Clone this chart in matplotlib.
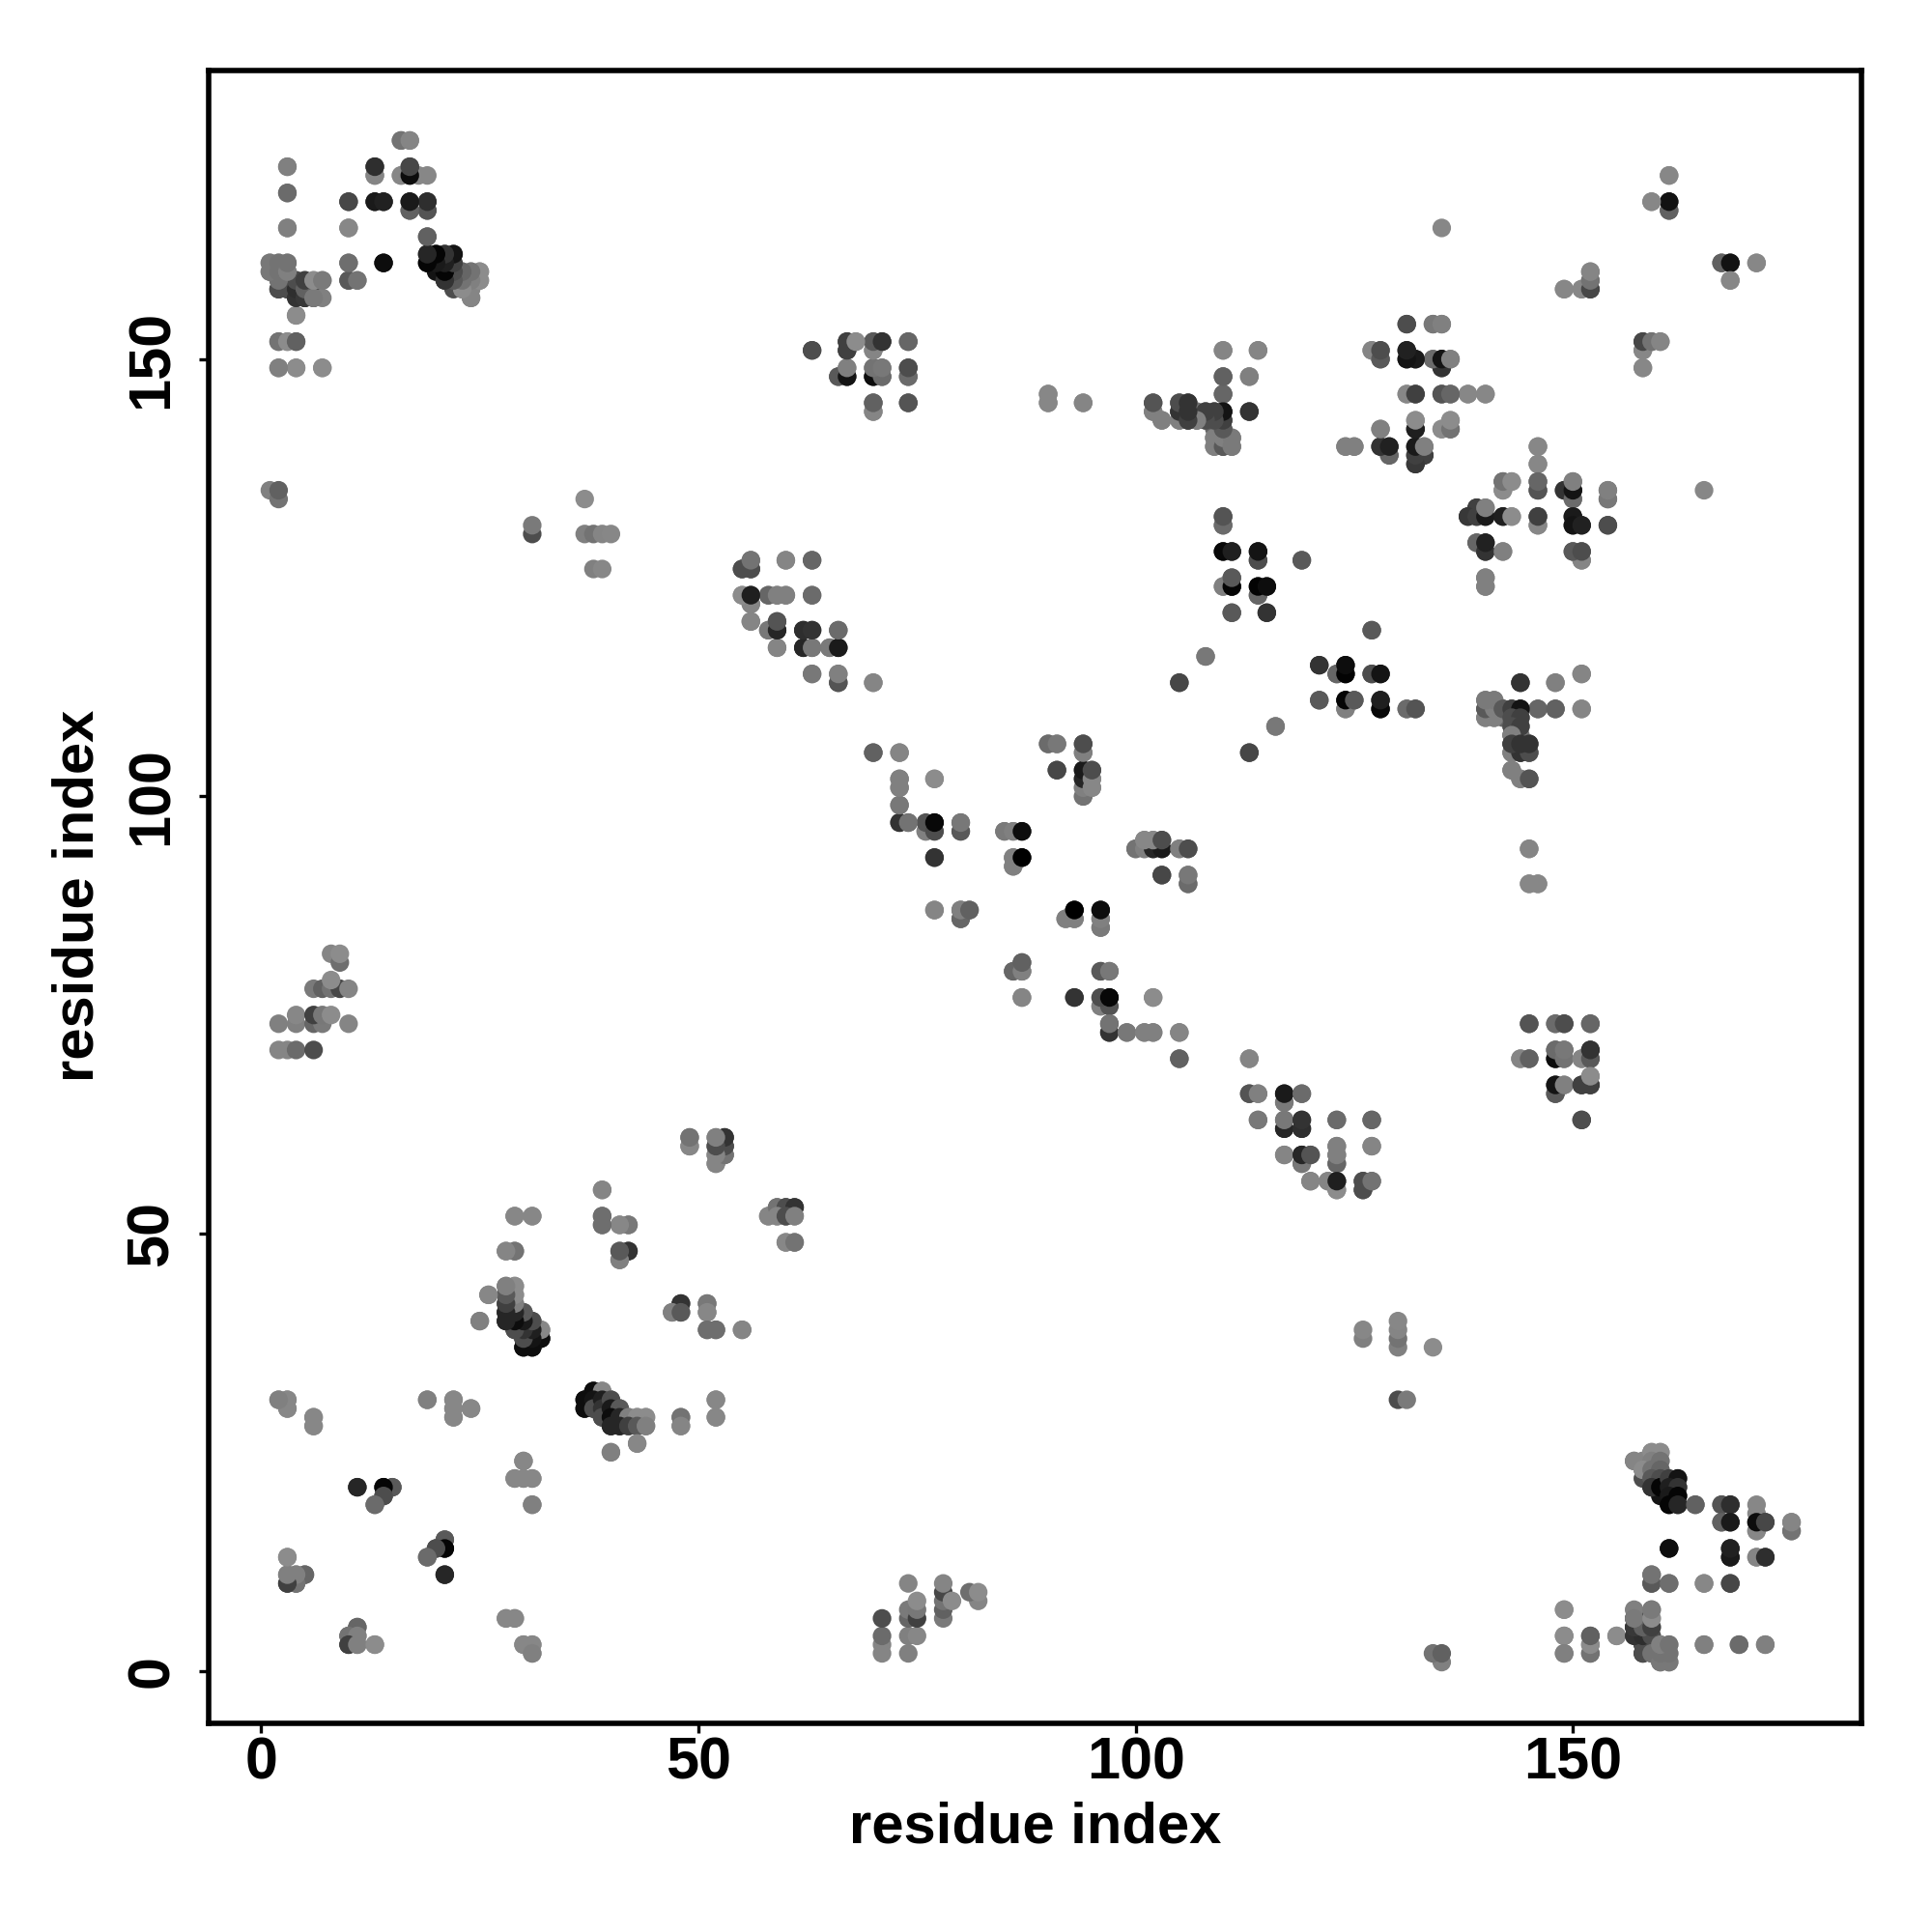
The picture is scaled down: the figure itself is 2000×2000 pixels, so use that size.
import matplotlib
matplotlib.use('Agg')
from matplotlib import pyplot as plt

# contacts as (residue, residue, grey level); the map is symmetric so each
# pair is listed once and mirrored when drawn
cluster_n_term = [
    (16, 175, .45), (17, 175, .55), (3, 172, .53), (13, 171, .5), (13, 172, .2), (16, 171, .52),
    (17, 171, .08), (18, 171, .53), (17, 172, .3), (3, 169, .45), (17, 167, .35), (19, 167, .35),
    (10, 168, .25), (13, 168, .08), (14, 168, .12), (17, 168, .1), (19, 168, .2), (3, 165, .5),
    (10, 165, .53), (19, 164, .38), (1, 161, .5), (2, 161, .5), (3, 161, .5), (10, 161, .45),
    (14, 161, .05), (1, 160, .5), (2, 160, .5), (3, 160, .45), (2, 159, .42), (3, 159, .4),
    (4, 159, .3), (5, 159, .25), (2, 158, .2), (3, 158, .2), (4, 158, .2), (5, 158, .08),
    (6, 158, .3), (6, 159, .5), (7, 159, .42), (10, 159, .42), (11, 159, .5), (5, 157, .15),
    (6, 157, .2), (7, 157, .5), (4, 155, .55), (2, 152, .48), (3, 152, .52), (4, 152, .38),
    (2, 149, .48), (4, 149, .5), (7, 149, .55),
]
cluster_19_25 = [
    (19, 162, .15), (20, 162, .05), (21, 162, .12), (22, 162, .2), (19, 161, .05),
    (20, 161, .1), (21, 161, .1), (20, 160, .08), (21, 160, .05), (22, 160, .15),
    (21, 159, .15), (22, 159, .2), (23, 160, .4), (24, 160, .45), (25, 160, .5), (23, 159, .4),
    (24, 159, .42), (25, 159, .52), (22, 158, .3), (23, 158, .45), (24, 158, .45), (24, 157, .48),
]
cluster_low = [
    (49, 61, .45), (49, 60, .53), (52, 61, .5), (53, 61, .2), (52, 60, .3), (53, 60, .2),
    (53, 59, .42), (52, 59, .5), (52, 58, .5), (39, 55, .52), (29, 52, .53), (31, 52, .53),
    (39, 52, .42), (39, 51, .42), (41, 51, .52), (42, 51, .45), (41, 48, .42), (42, 48, .2),
    (41, 47, .5), (28, 48, .53), (29, 48, .47), (48, 42, .2), (47, 41, .5), (48, 41, .35),
    (51, 42, .47), (51, 41, .53), (51, 39, .43), (52, 39, .43), (55, 39, .52), (58, 52, .52),
    (59, 53, .45), (60, 53, .3), (61, 53, .2), (59, 52, .52), (60, 52, .3), (61, 52, .5),
    (60, 49, .53), (61, 49, .45),
]
cluster_28_44 = [
    (28, 44, .47), (29, 44, .55), (26, 43, .52), (28, 43, .42), (29, 43, .55), (25, 40, .53),
    (28, 42, .4), (28, 41, .2), (28, 40, .15), (29, 42, .5), (29, 41, .2), (29, 40, .15),
    (30, 41, .35), (30, 40, .12), (31, 40, .3), (29, 39, .3), (30, 39, .05), (31, 39, .1),
    (32, 39, .55), (30, 38, .1), (31, 38, .03), (32, 38, .05), (30, 37, .03), (31, 37, .03),
    (37, 31, .05), (38, 32, .05), (39, 32, .53), (37, 30, .05), (38, 31, .08), (38, 30, .3),
    (39, 31, .12), (39, 30, .2), (39, 29, .3), (40, 31, .3), (40, 30, .1), (41, 30, .35),
    (40, 29, .05), (41, 29, .15), (42, 29, .5), (43, 29, .55), (44, 29, .55), (40, 28, .15),
    (41, 28, .15), (42, 28, .25), (43, 28, .35), (44, 28, .5), (43, 26, .53), (40, 25, .5),
    (48, 29, .45), (48, 28, .52), (52, 31, .53), (52, 29, .53), (2, 31, .55), (3, 31, .55),
    (3, 30, .55), (6, 29, .55), (6, 28, .55), (19, 31, .5), (22, 31, .55), (22, 30, .55),
    (22, 29, .55), (24, 30, .52),
]
cluster_short = [
    (11, 21, .17), (14, 21, .02), (15, 21, .35), (14, 20, .25), (13, 19, .42), (30, 24, .53),
    (29, 22, .53), (30, 22, .53), (31, 22, .53), (31, 19, .5), (21, 15, .35), (21, 14, .02),
    (20, 14, .3), (19, 13, .42), (21, 11, .15), (3, 13, .52), (3, 10, .25), (4, 10, .38),
    (3, 11, .5), (4, 11, .53), (5, 11, .38), (11, 5, .4), (10, 4, .45), (11, 4, .5), (10, 3, .25),
    (11, 3, .5), (13, 3, .55), (28, 6, .53), (29, 6, .53), (30, 3, .53), (31, 3, .53), (31, 2, .5),
]
cluster_63_74 = [
    (63, 151, .25), (67, 152, .2), (67, 151, .2), (68, 152, .53), (70, 152, .4), (70, 151, .55),
    (71, 152, .17), (74, 152, .38), (66, 148, .35), (67, 148, .08), (67, 149, .52), (70, 148, .03),
    (70, 149, .45), (71, 148, .3), (71, 149, .42), (74, 148, .38), (74, 149, .28), (70, 144, .55),
    (70, 145, .35), (74, 145, .3), (90, 146, .53), (90, 145, .53), (94, 145, .52),
]
cluster_102_114 = [
    (110, 151, .53), (114, 151, .5), (110, 148, .35), (113, 148, .5), (110, 146, .4), (113, 144, .2),
    (102, 144, .5), (102, 145, .3), (103, 143, .45), (105, 143, .45), (106, 143, .2), (107, 143, .3),
    (105, 145, .33), (106, 145, .22), (105, 144, .15), (106, 144, .2), (107, 144, .45), (108, 143, .5),
    (108, 144, .3), (109, 144, .3), (109, 143, .3), (110, 143, .25), (110, 144, .1), (109, 142, .4),
    (110, 142, .3), (109, 141, .42), (110, 141, .4), (109, 140, .5), (110, 140, .3), (111, 140, .45),
    (111, 141, .52),
]
cluster_124_140 = [
    (131, 154, .3), (134, 154, .5), (135, 154, .5), (127, 151, .55), (128, 150, .35), (128, 151, .35),
    (131, 151, .15), (131, 150, .1), (132, 150, .12), (134, 150, .55), (135, 149, .25), (135, 150, .1),
    (136, 150, .5), (131, 146, .55), (132, 146, .28), (135, 146, .38), (136, 146, .42), (138, 146, .55),
    (140, 146, .53), (128, 142, .53), (132, 142, .1), (132, 143, .55), (135, 142, .55), (136, 142, .4),
    (136, 143, .55), (124, 140, .48), (125, 140, .45), (129, 139, .35), (128, 140, .22), (129, 140, .15),
    (132, 138, .2), (132, 139, .2), (133, 139, .2), (132, 140, .08), (133, 140, .5),
]
cluster_138_154 = [
    (142, 135, .55), (142, 136, .45), (143, 136, .55), (139, 133, .25), (138, 132, .22), (139, 132, .25),
    (140, 132, .1), (140, 133, .5), (142, 132, .12), (143, 132, .55), (139, 129, .4), (140, 128, .2),
    (140, 129, .13), (142, 128, .5), (140, 124, .5), (140, 125, .5), (146, 140, .53), (146, 138, .53),
    (146, 135, .33), (146, 136, .4), (149, 135, .2), (150, 134, .42), (150, 135, .08), (150, 136, .5),
    (154, 134, .47), (154, 135, .5), (146, 131, .53), (146, 132, .25), (150, 132, .1), (150, 131, .08),
    (151, 131, .13), (154, 131, .3), (151, 127, .52), (150, 128, .35), (151, 128, .3),
]
cluster_110_132 = [
    (110, 131, .4), (110, 132, .3), (110, 128, .05), (111, 128, .1), (114, 127, .28), (114, 128, .08),
    (119, 127, .38), (110, 124, .5), (111, 124, .02), (111, 125, .35), (114, 123, .33), (114, 124, .02),
    (115, 124, .08), (111, 121, .35), (115, 121, .2), (127, 119, .35), (108, 116, .45), (105, 113, .25),
    (121, 115, .2), (123, 114, .4), (124, 114, .01), (124, 115, .05), (127, 114, .3), (128, 114, .08),
    (121, 111, .35), (124, 110, .5), (124, 111, .02), (125, 111, .35), (128, 110, .03), (128, 111, .12),
    (131, 110, .42), (132, 110, .33), (116, 108, .47), (113, 105, .28),
]
cluster_140_151 = [
    (144, 113, .2), (148, 113, .5), (151, 114, .52), (146, 110, .4), (148, 110, .38), (151, 110, .52),
    (140, 109, .5), (141, 109, .5), (140, 110, .35), (141, 110, .5), (140, 111, .48), (141, 111, .48),
    (142, 110, .35), (143, 110, .25), (144, 110, .08), (143, 109, .3), (144, 109, .25), (143, 108, .3),
    (144, 108, .25), (143, 107, .5), (143, 105, .5), (144, 105, .2), (145, 105, .3), (143, 106, .25),
    (144, 106, .2), (145, 106, .2), (143, 103, .5), (144, 102, .5), (145, 102, .33), (145, 94, .52),
    (145, 90, .53), (146, 90, .53),
]
cluster_upper_right = [
    (161, 171, .53), (159, 168, .53), (161, 167, .38), (161, 168, .07), (149, 158, .53), (151, 158, .53),
    (152, 158, .3), (152, 159, .45), (152, 160, .53), (167, 161, .38), (168, 161, .07), (171, 161, .53),
    (168, 159, .53), (158, 151, .53), (158, 149, .53), (158, 152, .28), (159, 152, .45), (160, 152, .52),
    (165, 135, .53),
]
cluster_55_81 = [
    (56, 127, .42), (55, 126, .3), (56, 126, .3), (60, 127, .5), (63, 127, .38), (55, 123, .5),
    (56, 122, .5), (56, 123, .1), (58, 123, .47), (59, 123, .42), (60, 123, .5), (63, 123, .42),
    (56, 120, .5), (58, 119, .47), (59, 119, .15), (59, 120, .35), (62, 119, .17), (63, 119, .2),
    (66, 119, .4), (59, 117, .5), (62, 117, .17), (63, 117, .42), (65, 117, .53), (66, 117, .1),
    (66, 113, .3), (63, 114, .5), (66, 114, .5), (70, 113, .52), (70, 105, .4), (73, 105, .5),
    (73, 101, .5), (73, 102, .47), (77, 102, .52), (73, 99, .5), (73, 97, .25), (74, 97, .4),
    (76, 96, .5), (77, 96, .5), (77, 97, .05), (80, 96, .4), (80, 97, .45), (77, 93, .3),
    (77, 87, .5), (80, 86, .4), (80, 87, .35), (81, 87, .38),
]
cluster_85_106 = [
    (90, 106, .48), (91, 106, .5), (94, 105, .5), (94, 106, .35), (91, 103, .3), (94, 100, .45),
    (94, 101, .52), (94, 102, .1), (94, 103, .1), (95, 101, .55), (95, 102, .53), (95, 103, .35),
    (85, 96, .47), (86, 96, .5), (87, 96, .05), (86, 92, .55), (86, 93, .5), (87, 93, .0),
    (100, 94, .45), (101, 94, .5), (102, 94, .15), (103, 94, .1), (101, 95, .53), (102, 95, .53),
    (103, 95, .3), (105, 94, .5), (106, 94, .3), (103, 91, .28), (106, 90, .42), (106, 91, .47),
    (92, 86, .5), (93, 86, .5), (93, 87, .0), (96, 85, .48), (96, 86, .5), (96, 87, .05),
]
cluster_86_102 = [
    (86, 80, .4), (87, 80, .5), (87, 81, .38), (96, 80, .35), (97, 80, .47), (87, 77, .52),
    (93, 77, .2), (96, 76, .5), (97, 76, .33), (96, 77, .3), (97, 77, .03), (102, 77, .55),
    (97, 73, .2), (97, 74, .45), (99, 73, .47), (101, 73, .5), (102, 73, .5), (105, 73, .52),
    (105, 70, .38), (113, 70, .52),
]
cluster_113_127 = [
    (113, 66, .33), (114, 66, .5), (117, 65, .48), (117, 66, .1), (119, 66, .42), (117, 62, .15),
    (119, 62, .18), (114, 63, .47), (117, 63, .47), (119, 63, .2), (123, 63, .42), (127, 63, .4),
    (119, 58, .47), (117, 59, .52), (119, 59, .15), (120, 59, .33), (123, 58, .4), (123, 59, .5),
    (123, 60, .5), (127, 60, .52), (120, 56, .52), (122, 56, .52), (123, 55, .55), (123, 56, .12),
    (126, 55, .3), (126, 56, .3), (127, 56, .45),
]
cluster_144_152 = [
    (145, 74, .33), (148, 74, .42), (149, 74, .3), (152, 74, .4), (144, 70, .52), (145, 70, .38),
    (148, 70, .05), (148, 71, .42), (149, 70, .45), (149, 71, .47), (151, 70, .52), (152, 70, .35),
    (152, 71, .2), (148, 66, .35), (148, 67, .08), (149, 67, .5), (151, 67, .25), (152, 67, .25),
    (152, 68, .55), (151, 63, .3),
]
cluster_terminal = [
    (1, 135, .5), (2, 134, .45), (2, 135, .38), (37, 134, .55), (31, 130, .3), (31, 131, .48),
    (37, 130, .5), (38, 130, .45), (39, 130, .52), (40, 130, .53), (38, 126, .5), (39, 126, .53),
    (8, 82, .52), (9, 81, .43), (9, 82, .55), (6, 78, .48), (7, 78, .38), (8, 78, .45),
    (9, 78, .28), (10, 78, .52), (8, 79, .55), (4, 74, .5), (4, 75, .53), (2, 74, .5),
    (6, 74, .4), (7, 74, .48), (6, 75, .25), (7, 75, .47), (8, 75, .55), (10, 74, .52),
    (2, 71, .52), (3, 71, .52), (4, 71, .42), (6, 71, .3),
]
cluster_157_175 = [
    (158, 24, .52), (157, 24, .52), (159, 25, .55), (160, 25, .55), (159, 24, .5), (160, 24, .45),
    (158, 23, .55), (159, 23, .45), (160, 23, .4), (159, 22, .35), (160, 22, .3), (159, 21, .2),
    (160, 21, .02), (161, 22, .25), (162, 22, .08), (161, 21, .12), (162, 21, .2), (161, 20, .1),
    (162, 20, .02), (161, 19, .02), (162, 19, .15), (164, 19, .38), (167, 19, .33), (168, 19, .18),
    (171, 19, .53), (167, 17, .38), (168, 17, .1), (171, 16, .53), (171, 17, .05), (172, 17, .28),
    (175, 16, .45), (175, 17, .52), (161, 14, .05), (168, 13, .1), (168, 14, .13), (171, 13, .52),
    (172, 13, .18), (159, 10, .35), (159, 11, .45), (161, 10, .43), (165, 10, .53), (168, 10, .28),
]
cluster_149_172 = [
    (149, 7, .55), (149, 4, .55), (149, 2, .5), (152, 2, .45), (152, 3, .55), (152, 4, .38),
    (155, 4, .55), (159, 3, .3), (158, 2, .3), (158, 3, .3), (157, 4, .2), (158, 4, .18),
    (159, 4, .3), (157, 5, .22), (158, 5, .38), (159, 5, .25), (157, 6, .48), (159, 6, .55),
    (159, 7, .48), (159, 2, .45), (160, 1, .47), (161, 1, .47), (160, 2, .45), (161, 2, .45),
    (160, 3, .5), (161, 3, .45), (165, 3, .5), (169, 3, .42), (172, 3, .5),
]

clusters = [cluster_n_term, cluster_19_25, cluster_low, cluster_28_44, cluster_short, cluster_63_74,
            cluster_102_114, cluster_124_140, cluster_138_154, cluster_110_132, cluster_140_151,
            cluster_upper_right, cluster_55_81, cluster_85_106, cluster_86_102, cluster_113_127,
            cluster_144_152, cluster_terminal, cluster_157_175, cluster_149_172]

tick_positions = [0, 50, 100, 150]
axis_label = 'residue index'


def mirrored(groups):
    xs, ys, greys = [], [], []
    for group in groups:
        for a, b, grey in group:
            xs += [a, b]
            ys += [b, a]
            greys += [str(grey), str(grey)]
    return xs, ys, greys


if __name__ == '__main__':
    plt.rcParams['font.family'] = ['Liberation Sans', 'DejaVu Sans']
    plt.rcParams['font.weight'] = 'bold'

    fig = plt.figure(figsize=(10, 10), dpi=200)
    ax = fig.add_axes([216 / 2000, 1 - 1784 / 2000, (1927 - 216) / 2000, (1784 - 73) / 2000])
    xs, ys, greys = mirrored(clusters)
    ax.scatter(xs, ys, s=48, c=greys, linewidths=0, zorder=3)

    ax.set_xlim(-6, 183)
    ax.set_ylim(-6, 183)
    ax.set_xticks(tick_positions)
    ax.set_yticks(tick_positions)
    ax.tick_params(length=3.5, width=1.2, labelsize=22)
    ax.tick_params(axis='x', pad=1.5)
    ax.tick_params(axis='y', pad=7)
    for label in ax.get_yticklabels():
        label.set_rotation(90)
        label.set_va('center')
    for spine in ax.spines.values():
        spine.set_linewidth(2)

    fig.text(1072 / 2000, 1 - 1892 / 2000, axis_label, ha='center', va='center', fontsize=21.5)
    fig.text(81 / 2000, 1 - 927 / 2000, axis_label, ha='center', va='center', rotation=90, fontsize=21.5)
    fig.savefig('out.png', dpi=200, facecolor='white')
